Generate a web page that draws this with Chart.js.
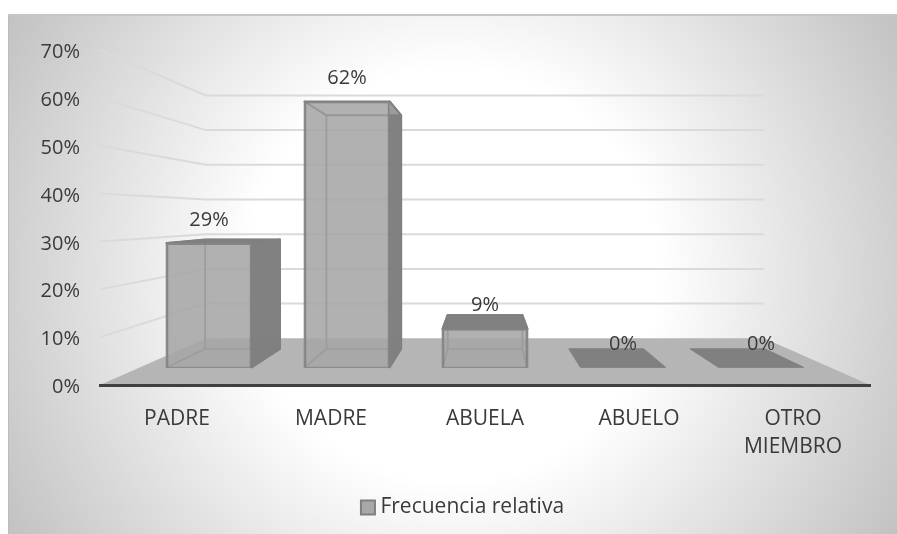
<!DOCTYPE html>
<html>
<head>
<meta charset="utf-8">
<script src="https://cdn.jsdelivr.net/npm/chart.js@4"></script>
<style>
    html, body { margin: 0; padding: 0; background: #fff; overflow: hidden; }
    #card {
        position: absolute; left: 8px; top: 14px; width: 889px; height: 520px;
        box-sizing: border-box; border-top: 2px solid #c6c6c6; border-left: 1px solid #bcbcbc;
        background: radial-gradient(circle farthest-corner at center, #fff 40%, #c2c2c2 100%);
    }
    #chart { position: absolute; left: 0; top: 0; }
</style>
</head>
<body>
<div id="card"></div>
<canvas id="chart" width="897" height="534"></canvas>
<script>
// Data
const categories = ["PADRE", "MADRE", "ABUELA", "ABUELO", ["OTRO", "MIEMBRO"]];
const seriesName = "Frecuencia relativa";
const frecuencia = [29, 62, 9, 0, 0];
const yMax = 70;
const yStep = 10;

// Perspective depth of each plane (1 = axis plane)
const WALL_K = 0.725;
const FRONT_K = 0.896;
const BACK_K = 0.787;

const TEXT_COLOR = "#3a3a3a";
const FONT = "'Open Sans'";

function vanishing(chart) {
    return {
        x: (chart.chartArea.left + chart.chartArea.right) / 2,
        y: chart.scales.y.getPixelForValue(35.5)
    };
}

function project(chart, px, py, k) {
    const vp = vanishing(chart);
    return { x: vp.x + (px - vp.x) * k, y: vp.y + (py - vp.y) * k };
}

function poly(ctx, pts, fill, stroke, lw) {
    ctx.beginPath();
    pts.forEach((p, i) => i ? ctx.lineTo(p.x, p.y) : ctx.moveTo(p.x, p.y));
    ctx.closePath();
    if (fill) { ctx.fillStyle = fill; ctx.fill(); }
    if (stroke) { ctx.strokeStyle = stroke; ctx.lineWidth = lw || 2; ctx.stroke(); }
}

const perspective = {
    id: "perspective",
    // legend sits right of the middle in the reference
    afterLayout(chart) {
        chart.legend.left += 15;
        chart.legend.right += 15;
    },
    // floor and gridlines on the walls
    beforeDraw(chart) {
        const { ctx, chartArea: a, scales: { y } } = chart;
        const y0 = y.getPixelForValue(0);
        ctx.save();
        poly(ctx, [
            { x: a.left, y: y0 },
            project(chart, a.left, y0, WALL_K),
            project(chart, a.right, y0, WALL_K),
            { x: a.right, y: y0 }
        ], "#b5b5b5");
        ctx.lineWidth = 2;
        ctx.strokeStyle = "#dadada";
        y.ticks.forEach(t => {
            if (t.value === 0) return;
            const py = y.getPixelForValue(t.value);
            const l = project(chart, a.left, py, WALL_K);
            const r = project(chart, a.right, py, WALL_K);
            ctx.beginPath();
            ctx.moveTo(a.left, py);
            ctx.lineTo(l.x, l.y);
            ctx.lineTo(r.x, r.y);
            ctx.stroke();
        });
        ctx.restore();
    },
    // move the bars Chart.js laid out onto the front plane of the box
    afterDatasetsUpdate(chart) {
        const { x, y } = chart.scales;
        const y0 = y.getPixelForValue(0);
        chart.getDatasetMeta(0).data.forEach((bar, i) => {
            const px = x.getPixelForTick(i);
            const top = project(chart, px, y.getPixelForValue(frecuencia[i]), FRONT_K);
            const base = project(chart, px, y0, FRONT_K);
            bar.$planeWidth = bar.$planeWidth || bar.width;
            bar.x = top.x;
            bar.y = top.y;
            bar.base = base.y;
            bar.width = bar.$planeWidth * FRONT_K;
        });
    },
    // back, sides and top of each box, behind the front face
    beforeDatasetsDraw(chart) {
        const { ctx, scales: { x, y } } = chart;
        const y0 = y.getPixelForValue(0);
        const inner = "rgba(166,166,166,0.7)";
        const outer = "rgba(125,125,125,0.95)";
        const edge = "#808080";
        const innerEdge = "#8c8c8c";
        ctx.save();
        ctx.lineJoin = "round";
        chart.getDatasetMeta(0).data.forEach((bar, i) => {
            const px = x.getPixelForTick(i);
            const hw = bar.$planeWidth / 2;
            const py = y.getPixelForValue(frecuencia[i]);
            const pt = (sx, sy, k) => project(chart, px + sx * hw, sy, k);
            const fbl = pt(-1, y0, FRONT_K), fbr = pt(1, y0, FRONT_K);
            const ftl = pt(-1, py, FRONT_K), ftr = pt(1, py, FRONT_K);
            const bbl = pt(-1, y0, BACK_K), bbr = pt(1, y0, BACK_K);
            const btl = pt(-1, py, BACK_K), btr = pt(1, py, BACK_K);
            const hasHeight = frecuencia[i] > 0;

            if (hasHeight) {
                poly(ctx, [bbl, bbr, btr, btl], inner, innerEdge, 1.5);
                poly(ctx, [fbl, fbr, bbr, bbl], inner, innerEdge, 1.5);
            }
            // a side is seen from outside when its back edge sticks out past the front one
            const leftOut = bbl.x < fbl.x;
            const rightOut = bbr.x > fbr.x;
            if (hasHeight) {
                if (!leftOut) poly(ctx, [fbl, ftl, btl, bbl], inner, innerEdge, 1.5);
                if (!rightOut) poly(ctx, [fbr, ftr, btr, bbr], inner, innerEdge, 1.5);
                if (leftOut) poly(ctx, [fbl, ftl, btl, bbl], outer, edge);
                if (rightOut) poly(ctx, [fbr, ftr, btr, bbr], outer, edge);
            }
            const topOut = btl.y < ftl.y;
            poly(ctx, [ftl, ftr, btr, btl], topOut ? outer : inner, edge, hasHeight ? 2 : 1);
        });
        ctx.restore();
    },
    // value labels
    afterDatasetsDraw(chart) {
        const { ctx } = chart;
        ctx.save();
        ctx.font = "20px " + FONT;
        ctx.fillStyle = TEXT_COLOR;
        ctx.textAlign = "center";
        ctx.textBaseline = "middle";
        chart.getDatasetMeta(0).data.forEach((bar, i) => {
            ctx.fillText(frecuencia[i] + "%", bar.x, bar.y - 23);
        });
        ctx.restore();
    }
};

new Chart(document.getElementById("chart"), {
    type: "bar",
    data: {
        labels: categories,
        datasets: [{
            label: seriesName,
            data: frecuencia,
            backgroundColor: "rgba(166,166,166,0.6)",
            borderColor: "#858585",
            borderWidth: 2,
            categoryPercentage: 1,
            barPercentage: 0.617
        }]
    },
    options: {
        responsive: false,
        animation: false,
        events: [],
        layout: { padding: { left: 30, right: 27, top: 50, bottom: 6 } },
        scales: {
            x: {
                grid: { display: false, drawTicks: false },
                border: { color: "#404040", width: 3 },
                ticks: {
                    color: TEXT_COLOR,
                    font: { family: FONT, size: 21, lineHeight: 1.33 },
                    padding: 20,
                    maxRotation: 0,
                    autoSkip: false
                },
                afterFit: s => { s.height = 102; }
            },
            y: {
                min: 0,
                max: yMax,
                grid: { display: false, drawTicks: false },
                border: { display: false },
                ticks: {
                    stepSize: yStep,
                    color: TEXT_COLOR,
                    // blank first line nudges the label about 2px below its tick
                    font: { family: FONT, size: 20, lineHeight: 0.25 },
                    padding: 20,
                    callback: v => ["", v + "%"]
                },
                afterFit: s => { s.width = 70; }
            }
        },
        plugins: {
            tooltip: { enabled: false },
            legend: {
                position: "bottom",
                labels: {
                    color: TEXT_COLOR,
                    font: { family: FONT, size: 21 },
                    usePointStyle: true,
                    pointStyle: "rect",
                    boxWidth: 4,
                    boxHeight: 14,
                    padding: 10,
                    generateLabels: chart => Chart.defaults.plugins.legend.labels.generateLabels(chart)
                        .map(item => ({ ...item, fillStyle: "#a8a8a8", strokeStyle: "#7f7f7f", lineWidth: 2 }))
                }
            }
        }
    },
    plugins: [perspective]
});
</script>
</body>
</html>
